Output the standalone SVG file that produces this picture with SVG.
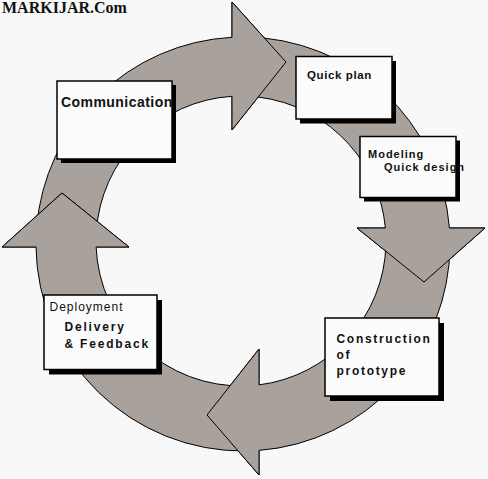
<svg xmlns="http://www.w3.org/2000/svg" width="488" height="479" viewBox="0 0 488 479">
<style>
.arrow{fill:#a8a19c;stroke:#000;stroke-width:1;stroke-linejoin:miter}
.headfill{fill:#a8a19c;stroke:none}
.headline{fill:none;stroke:#000;stroke-width:1;stroke-linejoin:miter}
.box{fill:#fbfbfb;stroke:#000;stroke-width:1.5}
.shadow{fill:#000}
.t{font-family:"Liberation Sans",Arial,sans-serif;fill:#111;font-weight:bold}
.r{font-weight:normal}
.title{font-family:"Liberation Serif","Times New Roman",serif;font-weight:bold;font-size:16px;fill:#111}
</style>
<rect width="488" height="479" fill="#f8f8f8"/>
<text class="title" x="2" y="13">MARKIJAR.Com</text>
<g id="connectors">
<path class="arrow" d="M36.6,228 A207,207 0 0 1 232,37.3 L232,2 L286,62 L232,130 L232,96.3 A145,145 0 0 0 96.3,232 Z"/>
<path class="arrow" d="M245,37 A207,207 0 0 1 449.4,228 L485,228 L424,282 L357,228 L385.4,228 A145,145 0 0 0 245,96.1 Z"/>
<path class="arrow" d="M450,245 A207,207 0 0 1 259,450.4 L259,475 L207,415 L259,349 L259,384.9 A145,145 0 0 0 385.9,245 Z"/>
<path class="arrow" d="M245,451 A207,207 0 0 1 36,247 L2,247 L62,193 L129,247 L96.1,247 A145,145 0 0 0 245,385.9 Z"/>
<polygon class="headfill" points="232,2 286,62 232,130"/>
<polyline class="headline" points="232,37.3 232,2 286,62 232,130 232,96.3"/>
<polygon class="headfill" points="485,228 424,282 357,228"/>
<polyline class="headline" points="449.4,228 485,228 424,282 357,228 385.4,228"/>
<polygon class="headfill" points="259,475 207,415 259,349"/>
<polyline class="headline" points="259,450.4 259,475 207,415 259,349 259,384.9"/>
<polygon class="headfill" points="2,247 62,193 129,247"/>
<polyline class="headline" points="36,247 2,247 62,193 129,247 96.1,247"/>
</g>
<g id="communication">
<rect class="shadow" x="61" y="85" width="115" height="78"/>
<rect class="box" x="57" y="81" width="115" height="78"/>
<text class="t" x="61" y="107" font-size="14" letter-spacing="0.45">Communication</text>
</g>
<g id="quick-plan">
<rect class="shadow" x="300" y="61" width="96" height="62.5"/>
<rect class="box" x="296" y="56.5" width="96" height="62.5"/>
<text class="t" x="307" y="79" font-size="11.5" letter-spacing="0.6">Quick plan</text>
</g>
<g id="modeling">
<rect class="shadow" x="364" y="140.5" width="96" height="61"/>
<rect class="box" x="360" y="136.5" width="96" height="61"/>
<text class="t" font-size="11" letter-spacing="1"><tspan x="368" y="157.5">Modeling</tspan><tspan x="384" y="170.5">Quick design</tspan></text>
</g>
<g id="construction">
<rect class="shadow" x="330" y="323" width="114" height="78"/>
<rect class="box" x="325" y="318" width="114" height="78"/>
<text class="t" font-size="12" letter-spacing="1.7"><tspan x="336.5" y="342.5">Construction</tspan><tspan x="336.5" y="358.5">of</tspan><tspan x="336.5" y="375">prototype</tspan></text>
</g>
<g id="deployment">
<rect class="shadow" x="49" y="300" width="113" height="74.5"/>
<rect class="box" x="44" y="295" width="113" height="74.5"/>
<text class="t r" x="49.5" y="311" font-size="12" letter-spacing="1">Deployment</text>
<text class="t" font-size="12" letter-spacing="1.8"><tspan x="64.5" y="331">Delivery</tspan><tspan x="64.5" y="347.5">&amp; Feedback</tspan></text>
</g>
</svg>
